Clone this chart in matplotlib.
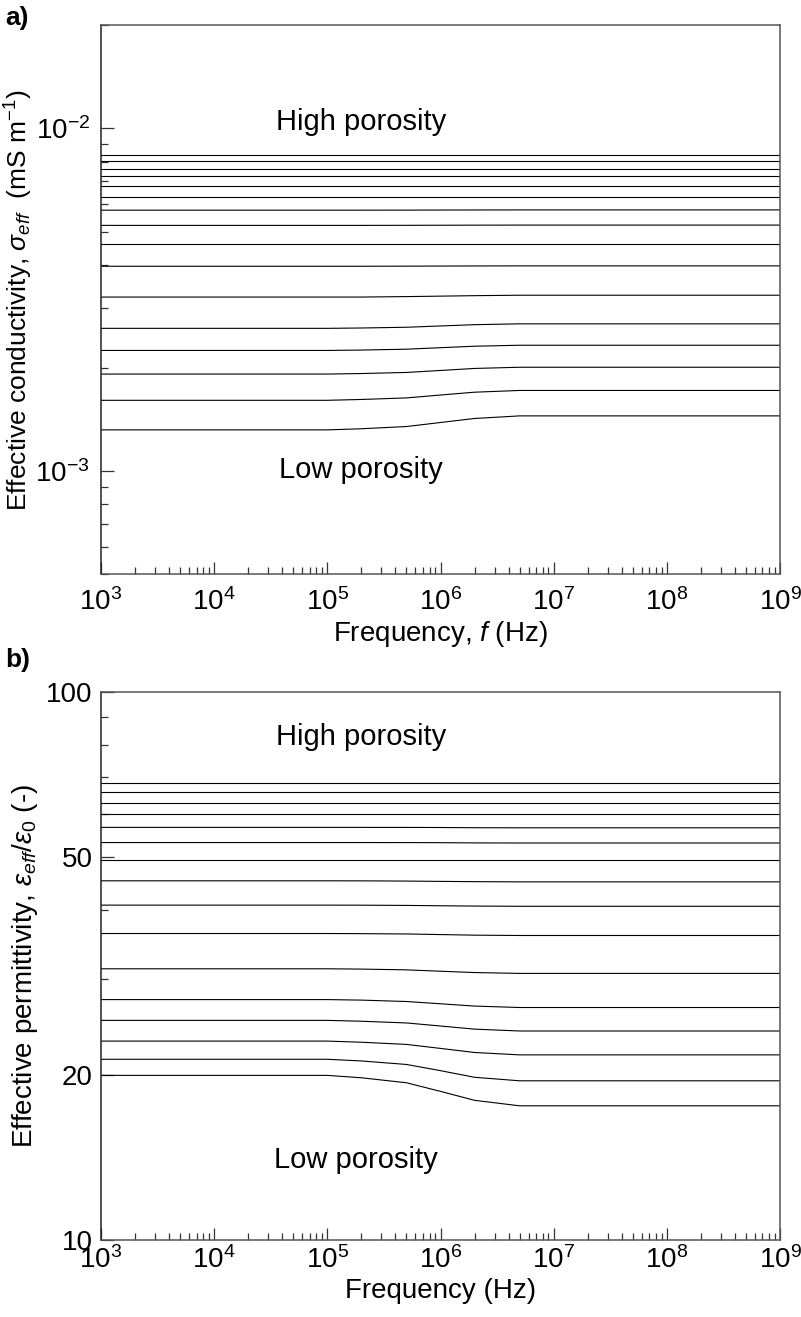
import numpy as np
import matplotlib.pyplot as plt
from matplotlib.ticker import LogLocator, FixedLocator, NullFormatter, FixedFormatter

plt.rcParams['font.family'] = ['Liberation Sans', 'DejaVu Sans']
plt.rcParams['mathtext.fontset'] = 'custom'
plt.rcParams['mathtext.rm'] = 'Liberation Sans'
plt.rcParams['mathtext.it'] = 'Liberation Sans:italic'
plt.rcParams['mathtext.bf'] = 'Liberation Sans:bold'

# frequencies (Hz) at which each curve is given
freq = [1e3, 1e5, 2e5, 5e5, 1e6, 2e6, 5e6, 1e9]

# effective conductivity, in units of 1e-3 mS/m, high porosity first
sigma_lines = [
    [8.37, 8.37, 8.37, 8.37, 8.37, 8.37, 8.37, 8.37],
    [8.02, 8.02, 8.02, 8.02, 8.02, 8.02, 8.02, 8.02],
    [7.63, 7.63, 7.63, 7.63, 7.63, 7.63, 7.63, 7.63],
    [7.24, 7.24, 7.24, 7.24, 7.24, 7.24, 7.24, 7.24],
    [6.78, 6.78, 6.78, 6.78, 6.78, 6.78, 6.78, 6.78],
    [6.30, 6.30, 6.30, 6.30, 6.30, 6.30, 6.30, 6.30],
    [5.77, 5.77, 5.77, 5.772, 5.775, 5.778, 5.78, 5.78],
    [5.21, 5.21, 5.21, 5.212, 5.215, 5.218, 5.22, 5.22],
    [4.61, 4.61, 4.61, 4.61, 4.61, 4.61, 4.61, 4.61],
    [3.96, 3.96, 3.96, 3.962, 3.965, 3.968, 3.97, 3.97],
    [3.22, 3.22, 3.22, 3.23, 3.24, 3.25, 3.26, 3.26],
    [2.61, 2.61, 2.616, 2.629, 2.652, 2.675, 2.69, 2.69],
    [2.25, 2.25, 2.256, 2.269, 2.292, 2.315, 2.33, 2.33],
    [1.92, 1.92, 1.927, 1.941, 1.967, 1.994, 2.01, 2.01],
    [1.61, 1.61, 1.619, 1.636, 1.668, 1.700, 1.72, 1.72],
    [1.32, 1.32, 1.330, 1.350, 1.387, 1.425, 1.45, 1.45],
]

# relative effective permittivity, high porosity first
perm_lines = [
    [68.2, 68.2, 68.2, 68.2, 68.2, 68.2, 68.2, 68.2],
    [65.7, 65.7, 65.7, 65.7, 65.7, 65.7, 65.7, 65.7],
    [62.9, 62.9, 62.9, 62.9, 62.9, 62.9, 62.9, 62.9],
    [60.0, 60.0, 60.0, 60.0, 60.0, 60.0, 60.0, 60.0],
    [56.7, 56.7, 56.7, 56.69, 56.67, 56.62, 56.6, 56.6],
    [53.2, 53.2, 53.2, 53.19, 53.17, 53.12, 53.1, 53.1],
    [49.4, 49.4, 49.4, 49.4, 49.4, 49.4, 49.4, 49.4],
    [45.3, 45.3, 45.29, 45.25, 45.19, 45.14, 45.1, 45.1],
    [40.9, 40.9, 40.89, 40.85, 40.79, 40.74, 40.7, 40.7],
    [36.3, 36.3, 36.28, 36.23, 36.14, 36.05, 36.0, 36.0],
    [31.3, 31.3, 31.26, 31.16, 30.98, 30.81, 30.7, 30.7],
    [27.5, 27.5, 27.44, 27.28, 27.02, 26.76, 26.6, 26.6],
    [25.2, 25.2, 25.11, 24.93, 24.61, 24.29, 24.1, 24.1],
    [23.1, 23.1, 22.99, 22.78, 22.40, 22.02, 21.8, 21.8],
    [21.4, 21.4, 21.25, 20.94, 20.40, 19.84, 19.55, 19.55],
    [20.0, 20.0, 19.80, 19.39, 18.70, 18.01, 17.6, 17.6],
]

perm_ticks = [10, 20, 50, 100]
perm_minor = [30, 40, 60, 70, 80, 90]

fig = plt.figure(figsize=(8.01, 13.17), dpi=100)
ax1 = fig.add_axes([0.1261, 0.5638, 0.8477, 0.4172])
ax2 = fig.add_axes([0.1261, 0.0582, 0.8477, 0.4161])

for s in sigma_lines:
    ax1.plot(freq, np.array(s) * 1e-3, color='black', lw=0.8)
for p in perm_lines:
    ax2.plot(freq, p, color='black', lw=0.8)

for ax in (ax1, ax2):
    ax.set_xscale('log')
    ax.set_yscale('log')
    ax.set_xlim(1e3, 1e9)
    ax.xaxis.set_major_locator(LogLocator(base=10, numticks=10))
    ax.xaxis.set_minor_locator(LogLocator(base=10, subs=np.arange(2, 10), numticks=20))
    ax.xaxis.set_minor_formatter(NullFormatter())
    ax.tick_params(which='both', direction='in', top=False, right=False,
                   labelsize=20, width=0.9, color='#333333')
    ax.tick_params(which='major', length=9)
    ax.tick_params(which='minor', length=5)
    for sp in ax.spines.values():
        sp.set_linewidth(1.1)
        sp.set_color('#555555')
    ax.spines['left'].set_color('#222222')

ax1.set_ylim(5e-4, 2e-2)
ax1.yaxis.set_minor_formatter(NullFormatter())
ax1.tick_params(axis='x', which='major', pad=10)
ax1.tick_params(axis='y', which='major', pad=8)
ax1.set_xlabel('Frequency, $\\mathit{f}$ (Hz)', fontsize=20, labelpad=2)
ax1.set_ylabel('Effective conductivity, $\\sigma_{eff}$  (mS m$^{-1}$)', fontsize=19)
ax1.yaxis.set_label_coords(-0.097, 0.5)
ax1.text(0.383, 0.8235, 'High porosity', transform=ax1.transAxes,
         ha='center', va='center', fontsize=21)
ax1.text(0.383, 0.19, 'Low porosity', transform=ax1.transAxes,
         ha='center', va='center', fontsize=21)

ax2.set_ylim(10, 100)
ax2.yaxis.set_major_locator(FixedLocator(perm_ticks))
ax2.yaxis.set_major_formatter(FixedFormatter([str(t) for t in perm_ticks]))
ax2.yaxis.set_minor_locator(FixedLocator(perm_minor))
ax2.yaxis.set_minor_formatter(NullFormatter())
ax2.tick_params(axis='x', which='major', pad=4)
ax2.tick_params(axis='y', which='major', pad=6)
ax2.set_xlabel('Frequency (Hz)', fontsize=20, labelpad=3)
ax2.set_ylabel('Effective permittivity, $\\varepsilon_{eff}/\\varepsilon_0$ (-)', fontsize=20)
ax2.yaxis.set_label_coords(-0.09, 0.5)
ax2.text(0.383, 0.918, 'High porosity', transform=ax2.transAxes,
         ha='center', va='center', fontsize=21)
ax2.text(0.376, 0.1465, 'Low porosity', transform=ax2.transAxes,
         ha='center', va='center', fontsize=21)

fig.text(0.006, 0.986, 'a)', fontsize=19, fontweight='bold', va='center')
fig.text(0.006, 0.499, 'b)', fontsize=19, fontweight='bold', va='center')

fig.savefig('out.png', dpi=100)
